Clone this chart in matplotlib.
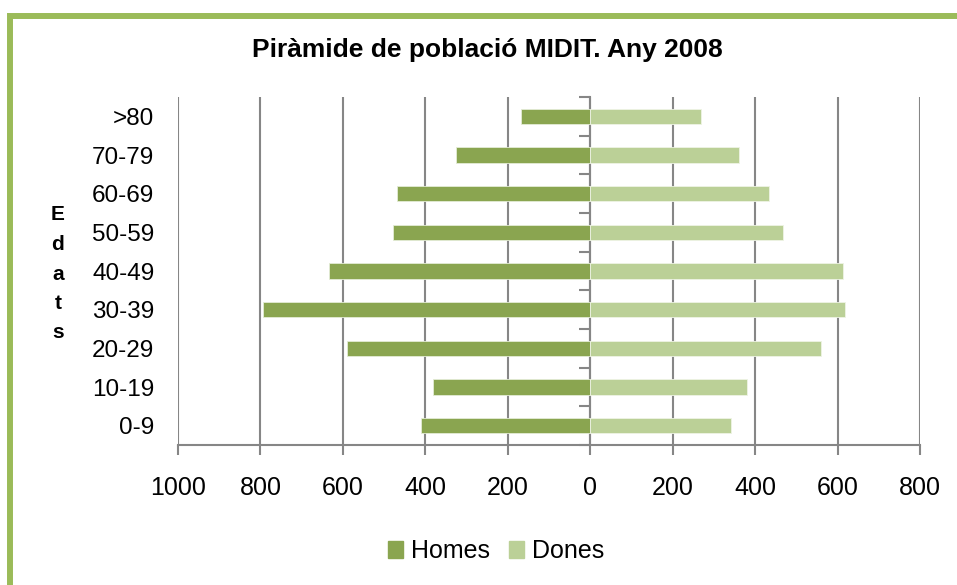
import numpy as np
import matplotlib
matplotlib.use("Agg")
import matplotlib.pyplot as plt
from matplotlib.patches import Rectangle, Patch
from matplotlib.ticker import FuncFormatter

# dades llegides del gràfic
edats = ["0-9", "10-19", "20-29", "30-39", "40-49", "50-59", "60-69", "70-79", ">80"]
homes = [410, 381, 590, 794, 633, 478, 468, 325, 168]
dones = [341, 380, 561, 618, 614, 468, 434, 361, 269]
xticks = [-1000, -800, -600, -400, -200, 0, 200, 400, 600, 800]

c_homes = "#8aa550"
c_dones = "#bbd097"
c_grid = "#868686"
c_border = "#9bbb59"

W, H = 957, 585
fig = plt.figure(figsize=(W / 100, H / 100), dpi=100)
ax = fig.add_axes([178 / W, 1 - 445 / H, (920 - 178) / W, (445 - 97) / H])

y = np.arange(len(edats))
ax.barh(y, -np.array(homes), height=0.4, color=c_homes, edgecolor="#e4ecd6", linewidth=0.6, zorder=3)
ax.barh(y, dones, height=0.4, color=c_dones, edgecolor="#eef3e5", linewidth=0.6, zorder=3)

ax.set_xlim(-1000, 800)
ax.set_ylim(-0.5, len(edats) - 0.5)
ax.set_xticks(xticks)
ax.xaxis.set_major_formatter(FuncFormatter(lambda v, p: f"{abs(int(v))}"))
ax.grid(axis="x", color=c_grid, linewidth=1.5)
ax.set_axisbelow(True)

for s in ["top", "left", "right"]:
    ax.spines[s].set_visible(False)
ax.spines["bottom"].set_color(c_grid)
ax.spines["bottom"].set_linewidth(1.5)
ax.tick_params(axis="x", direction="out", length=7, width=1.5, color=c_grid, pad=15)
for lab in ax.get_xticklabels():
    lab.set_fontfamily("Liberation Sans")
    lab.set_fontsize(18)

ax.set_yticks(y)
ax.set_yticklabels(edats, fontfamily="Liberation Sans", fontsize=17.5)
ax.tick_params(axis="y", length=0, pad=17)

# eix vertical al zero amb marques entre categories
sec = ax.secondary_yaxis(1000 / 1800)
sec.set_yticks(np.arange(len(edats) + 1) - 0.5)
sec.tick_params(direction="in", length=8, width=1.5, color=c_grid, labelright=False, labelleft=False)
sec.spines["right"].set_color(c_grid)
sec.spines["right"].set_linewidth(1.5)

fig.text(487 / W, 1 - 50 / H, "Piràmide de població MIDIT. Any 2008",
         ha="center", va="center", fontsize=19, fontweight="bold", fontfamily="Liberation Sans")
fig.text(58 / W, 1 - 274 / H, "E\nd\na\nt\ns", ha="center", va="center",
         fontsize=15, fontweight="bold", fontfamily="Liberation Sans", linespacing=1.7)

handles = [Patch(color=c_homes, label="Homes"), Patch(color=c_dones, label="Dones")]
fig.legend(handles=handles, loc="center", bbox_to_anchor=(496 / W, 1 - 551 / H), ncol=2,
           frameon=False, prop={"family": "Liberation Sans", "size": 18},
           handlelength=0.6, handleheight=0.65, handletextpad=0.32, columnspacing=0.75)

fig.patches.append(Rectangle((10.3 / W, -0.1), 1.2, 1 - 15.7 / H + 0.1, transform=fig.transFigure,
                             fill=False, edgecolor=c_border, linewidth=4.3, figure=fig))

fig.savefig("out.png", dpi=100)
